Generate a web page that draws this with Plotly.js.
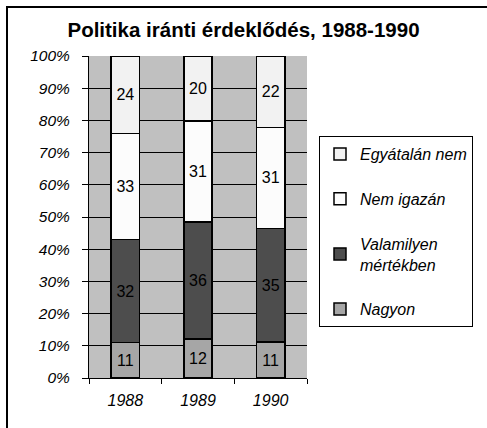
<!DOCTYPE html>
<html>
<head>
<meta charset="utf-8">
<script src="https://cdn.plot.ly/plotly-3.0.1.min.js"></script>
<style>
html,body{margin:0;padding:0;background:#fff;}
#wrap{position:relative;width:487px;height:428px;overflow:hidden;}
#chart{position:absolute;left:0;top:0;width:487px;height:428px;z-index:1;}
#frame{position:absolute;left:6px;top:6px;width:600px;height:600px;border-left:2px solid #000;border-top:2px solid #000;pointer-events:none;z-index:10;box-sizing:border-box;}
</style>
</head>
<body>
<div id="wrap"><div id="chart"></div><div id="frame"></div></div>
<script>
const years = ['1988', '1989', '1990'];
const nagyon = [11, 12, 11];
const valamilyen = [32, 36, 35];
const nemIgazan = [33, 31, 31];
const egyaltalanNem = [24, 20, 22];

const seriesNames = ['Nagyon', 'Valamilyen<br>mértékben', 'Nem igazán', 'Egyátalán nem'];
const seriesValues = [nagyon, valamilyen, nemIgazan, egyaltalanNem];
const seriesColors = ['#a6a6a6', '#4d4d4d', '#fcfcfc', '#f2f2f2'];

const traces = seriesValues.map((vals, i) => ({
  type: 'bar',
  x: years,
  y: vals,
  name: seriesNames[i],
  legendgroup: 'g' + i,
  legendrank: 1000 - i,
  text: vals.map(String),
  textposition: 'inside',
  insidetextanchor: 'middle',
  textangle: 0,
  constraintext: 'none',
  textfont: {family: 'Liberation Sans, Arial, sans-serif', size: 16, color: '#000'},
  marker: {color: seriesColors[i], line: {color: '#000', width: 1.5}},
  hoverinfo: 'skip'
}));

const L = 89, R = 180, T = 56, B = 50;
const pw = 487 - L - R, ph = 428 - T - B;

const layout = {
  width: 487,
  height: 428,
  margin: {l: L, r: R, t: T, b: B, pad: 0},
  paper_bgcolor: '#fff',
  plot_bgcolor: '#c0c0c0',
  barmode: 'stack',
  barnorm: 'percent',
  bargap: 0.61,
  showlegend: true,
  font: {family: 'Liberation Sans, Arial, sans-serif', color: '#000'},
  title: {
    text: '<b>Politika iránti érdeklődés, 1988-1990</b>',
    font: {family: 'Liberation Sans, Arial, sans-serif', size: 20.5, color: '#000'},
    x: 0.5, xref: 'container', xanchor: 'center',
    y: 1 - 30 / 428, yref: 'container', yanchor: 'middle'
  },
  xaxis: {
    type: 'category',
    tickson: 'boundaries',
    ticks: 'outside',
    ticklen: 5,
    tickcolor: '#000',
    tickwidth: 1,
    showline: true,
    linecolor: '#000',
    linewidth: 1,
    showgrid: false,
    ticklabelstandoff: 8,
    tickfont: {family: 'Liberation Sans, Arial, sans-serif', size: 16, style: 'italic', color: '#000'}
  },
  yaxis: {
    range: [0, 100],
    dtick: 10,
    ticksuffix: '%',
    ticks: 'outside',
    ticklen: 6,
    tickcolor: '#000',
    tickwidth: 1,
    showline: true,
    linecolor: '#000',
    linewidth: 1,
    showgrid: true,
    gridcolor: '#000',
    gridwidth: 1,
    zeroline: false,
    ticklabelstandoff: 9,
    tickfont: {family: 'Liberation Sans, Arial, sans-serif', size: 15.5, style: 'italic', color: '#000'}
  },
  legend: {
    x: (319 - L) / pw,
    xanchor: 'left',
    y: (428 - B - 136) / ph,
    yanchor: 'top',
    bgcolor: '#fff',
    bordercolor: '#000',
    borderwidth: 1,
    traceorder: 'grouped',
    tracegroupgap: 21,
    font: {family: 'Liberation Sans, Arial, sans-serif', size: 16, style: 'italic', color: '#000'}
  }
};

Plotly.newPlot('chart', traces, layout, {staticPlot: true, displayModeBar: false});
</script>
</body>
</html>
